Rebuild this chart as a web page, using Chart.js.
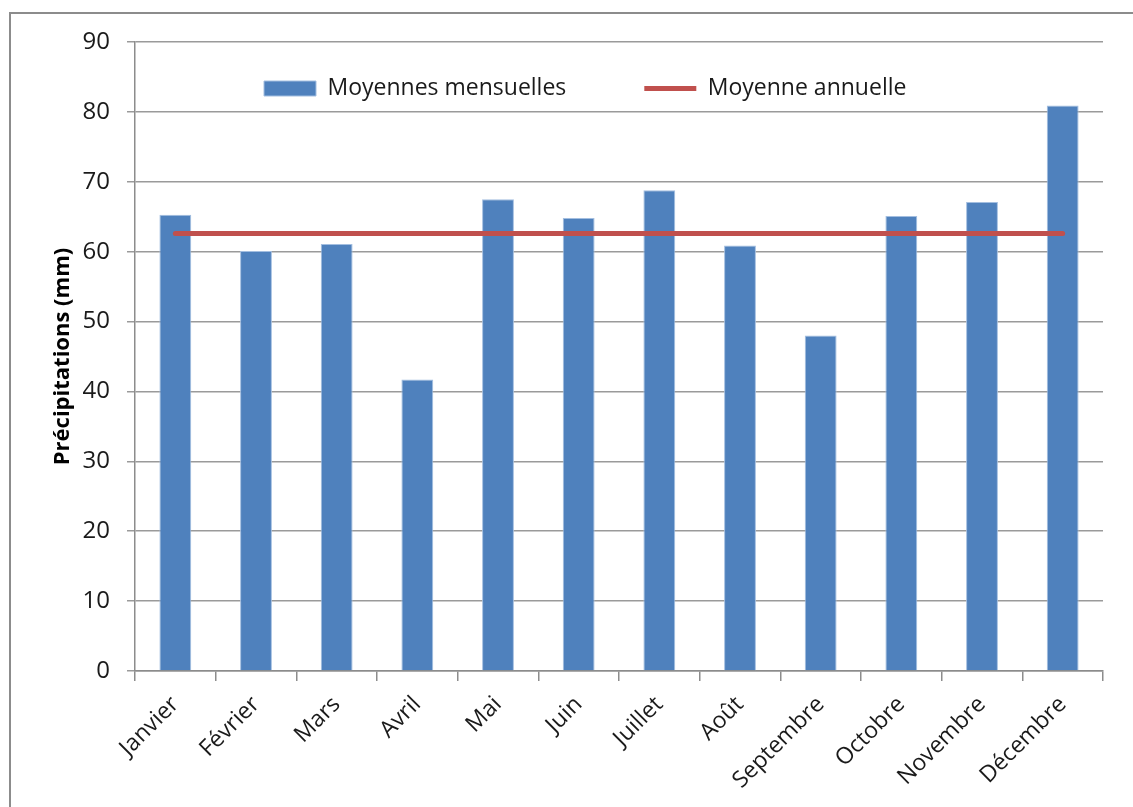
<!DOCTYPE html>
<html>
<head>
<meta charset="utf-8">
<script src="https://cdn.jsdelivr.net/npm/chart.js@4/dist/chart.umd.min.js"></script>
<style>
  html, body { margin: 0; padding: 0; background: #fff; overflow: hidden; }
  #wrap { position: relative; width: 1133px; height: 807px; }
  #chart { position: absolute; left: 0; top: 0; }
  #frame {
    position: absolute; left: 9px; top: 12px; width: 1200px; height: 900px;
    border-left: 2px solid #8c8c8c; border-top: 2px solid #8c8c8c;
    pointer-events: none;
  }
</style>
</head>
<body>
<div id="wrap">
  <canvas id="chart" width="1133" height="807"></canvas>
  <div id="frame"></div>
</div>
<script>
// Précipitations moyennes par mois (mm)
const months = ['Janvier', 'Février', 'Mars', 'Avril', 'Mai', 'Juin',
                'Juillet', 'Août', 'Septembre', 'Octobre', 'Novembre', 'Décembre'];
const monthlyMeans = [65.3, 60.1, 61.1, 41.7, 67.5, 64.8, 68.8, 60.9, 48.0, 65.1, 67.1, 80.9];
const annualMean = [62.6, 62.6, 62.6, 62.6, 62.6, 62.6, 62.6, 62.6, 62.6, 62.6, 62.6, 62.6];
const yTicks = [0, 10, 20, 30, 40, 50, 60, 70, 80, 90];
const seriesNames = ['Moyennes mensuelles', 'Moyenne annuelle'];

const FONT = "'Open Sans', 'Noto Sans', sans-serif";
const GRID = '#9a9a9a';
const AXIS = '#8c8c8c';

// Legend placement inside the plot, below the top gridline
const LEGEND_LEFT = 264;
const LEGEND_TOP = 77;
const LEGEND_GAP = 78;

// Keeps the legend from reserving space above the plot and moves it inside
const legendInsidePlot = {
  id: 'legendInsidePlot',
  afterInit(chart) {
    const legend = chart.legend;
    const fit = legend.fit;
    legend.fit = function () { fit.call(this); this.height = 0; };
  },
  afterLayout(chart) {
    const legend = chart.legend;
    legend.left = LEGEND_LEFT - LEGEND_GAP;
    legend.right = chart.chartArea.right;
    legend.top = LEGEND_TOP - LEGEND_GAP;
    legend.bottom = LEGEND_TOP + 40;
  }
};

new Chart(document.getElementById('chart'), {
  data: {
    labels: months,
    datasets: [
      {
        type: 'line',
        label: seriesNames[1],
        data: annualMean,
        borderColor: '#C0504D',
        backgroundColor: '#C0504D',
        borderWidth: 5,
        borderCapStyle: 'round',
        pointRadius: 0,
        pointHoverRadius: 0,
        pointStyle: 'line',
        order: 0
      },
      {
        type: 'bar',
        label: seriesNames[0],
        data: monthlyMeans,
        backgroundColor: '#4F81BD',
        borderColor: '#A3BEE0',
        borderWidth: 1,
        categoryPercentage: 1,
        barPercentage: 0.395,
        pointStyle: 'rect',
        order: 1
      }
    ]
  },
  plugins: [legendInsidePlot],
  options: {
    responsive: false,
    animation: false,
    layout: { padding: { left: 0, top: 42, right: 30, bottom: 0 } },
    plugins: {
      tooltip: { enabled: false },
      legend: {
        position: 'top',
        align: 'start',
        reverse: true,
        labels: {
          color: '#1a1a1a',
          font: { family: FONT, size: 23 },
          usePointStyle: true,
          pointStyleWidth: 52,
          boxHeight: 15,
          padding: LEGEND_GAP
        }
      }
    },
    scales: {
      x: {
        offset: true,
        grid: {
          offset: true,
          drawOnChartArea: false,
          drawTicks: true,
          tickLength: 10,
          color: AXIS,
          lineWidth: 1.5
        },
        border: { color: AXIS, width: 1.5 },
        ticks: {
          color: '#1a1a1a',
          font: { family: FONT, size: 23 },
          minRotation: 45,
          maxRotation: 45,
          autoSkip: false,
          padding: 10
        },
        afterFit(scale) { scale.height = 807 - 671; }
      },
      y: {
        min: 0,
        max: 90,
        afterBuildTicks(scale) { scale.ticks = yTicks.map(v => ({ value: v })); },
        grid: {
          color: GRID,
          lineWidth: 1.5,
          drawTicks: true,
          tickLength: 8
        },
        border: { color: AXIS, width: 1.5 },
        ticks: {
          color: '#1a1a1a',
          font: { family: FONT, size: 24 },
          padding: 17
        },
        title: {
          display: true,
          text: 'Précipitations (mm)',
          color: '#000',
          font: { family: FONT, size: 22, weight: 'bold' },
          padding: { top: 50, bottom: 0 }
        },
        afterFit(scale) { scale.width = 135; }
      }
    }
  }
});
</script>
</body>
</html>
